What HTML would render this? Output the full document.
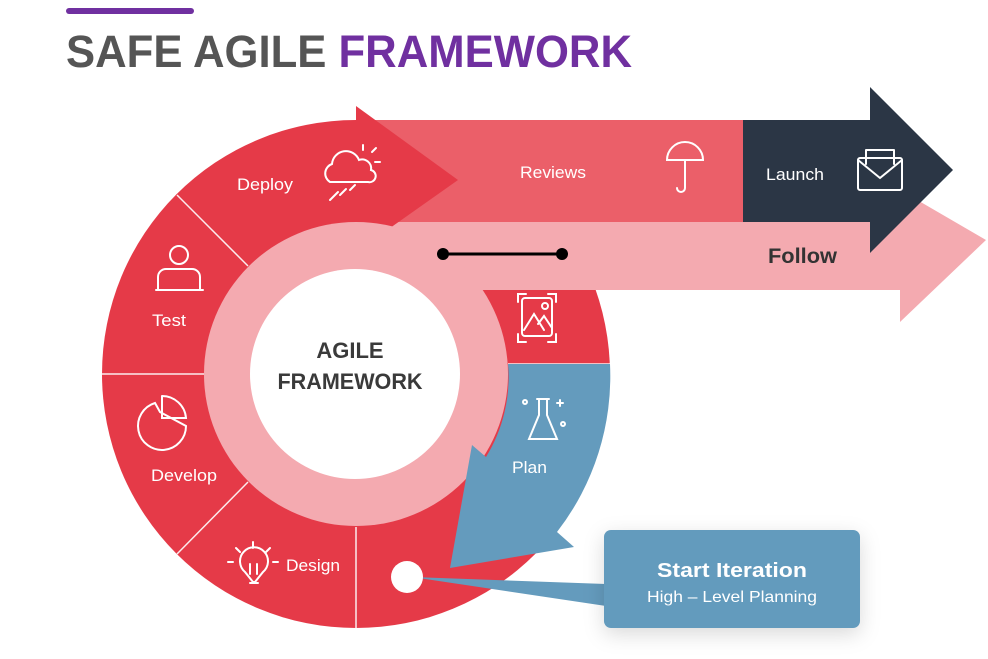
<!DOCTYPE html>
<html><head><style>
body{margin:0;background:#fff;width:988px;height:659px;overflow:hidden}
svg{display:block}
text{font-family:"Liberation Sans",sans-serif}
</style></head><body>
<svg width="988" height="659" viewBox="0 0 988 659">
<defs><filter id="sh" x="-20%" y="-20%" width="140%" height="160%"><feDropShadow dx="0" dy="6" stdDeviation="10" flood-color="#000" flood-opacity="0.15"/></filter></defs>
<rect x="66" y="8" width="128" height="6" rx="3" fill="#7030A0"/>
<text x="66" y="67" font-size="45" font-weight="bold" fill="#555" textLength="566" lengthAdjust="spacingAndGlyphs"><tspan>SAFE AGILE </tspan><tspan fill="#7030A0">FRAMEWORK</tspan></text>

<polygon points="356,222 900,222 900,190 986,240 900,322 900,290 356,290" fill="#F4AAB0"/>
<circle cx="356" cy="374" r="254" fill="#E53A48"/>
<rect x="356" y="120" width="390" height="102" fill="#EB5F69"/>
<rect x="356" y="222" width="260" height="68" fill="#F4AAB0"/>
<polygon points="743,120 870,120 870,87 953,170 870,253 870,222 743,222" fill="#2B3645"/>
<polygon points="356,106 458,180 356,252" fill="#E53A48"/>
<circle cx="356" cy="374" r="152" fill="#F4AAB0"/>
<circle cx="355" cy="374" r="105" fill="#fff"/>
<g stroke="#fff" stroke-width="1.5" opacity="0.9">
<line x1="177" y1="195" x2="248" y2="266"/>
<line x1="102" y1="374" x2="204" y2="374"/>
<line x1="248" y1="482" x2="177" y2="554"/>
<line x1="356" y1="527" x2="356" y2="629"/>
<line x1="508" y1="364" x2="610" y2="364"/>
</g>
<path d="M508,364 L610,364 A254,254 0 0 1 557,532 L574,547 L450,568 L472,445 L486,457 A152,152 0 0 0 508,364 Z" fill="#649BBD"/>
<line x1="443" y1="254" x2="562" y2="254" stroke="#000" stroke-width="3"/>
<circle cx="443" cy="254" r="6"/><circle cx="562" cy="254" r="6"/>
<polygon points="412,577 606,584 606,606" fill="#649BBD"/>
<rect x="604" y="530" width="256" height="98" rx="7" fill="#649BBD" filter="url(#sh)"/>
<circle cx="407" cy="577" r="16" fill="#fff"/>
<text x="732" y="577" font-size="20" font-weight="bold" fill="#fff" text-anchor="middle" textLength="150" lengthAdjust="spacingAndGlyphs">Start Iteration</text>
<text x="732" y="602" font-size="16" fill="#fff" text-anchor="middle" textLength="170" lengthAdjust="spacingAndGlyphs">High – Level Planning</text>
<g fill="#fff" font-size="17">
<text x="237" y="190" textLength="56" lengthAdjust="spacingAndGlyphs">Deploy</text>
<text x="520" y="178" textLength="66" lengthAdjust="spacingAndGlyphs">Reviews</text>
<text x="766" y="180" textLength="58" lengthAdjust="spacingAndGlyphs">Launch</text>
<text x="152" y="326" textLength="34" lengthAdjust="spacingAndGlyphs">Test</text>
<text x="151" y="481" textLength="66" lengthAdjust="spacingAndGlyphs">Develop</text>
<text x="286" y="571" textLength="54" lengthAdjust="spacingAndGlyphs">Design</text>
<text x="512" y="473" textLength="35" lengthAdjust="spacingAndGlyphs">Plan</text>
</g>
<text x="768" y="263" font-size="21" font-weight="bold" fill="#333" textLength="69" lengthAdjust="spacingAndGlyphs">Follow</text>
<text x="350" y="358" font-size="22" font-weight="bold" fill="#3a3a3a" text-anchor="middle">AGILE</text>
<text x="350" y="389" font-size="22" font-weight="bold" fill="#3a3a3a" text-anchor="middle" textLength="145" lengthAdjust="spacingAndGlyphs">FRAMEWORK</text>
<g fill="none" stroke="#fff" stroke-width="2" stroke-linecap="round">
<path d="M330,182 a10,10 0 0 1 2,-18 a14,14 0 0 1 27,-4 a9,9 0 0 1 12,10 a6,6 0 0 1 -3,12 Z"/>
<path d="M363,150 l0,-5 M372,152 l4,-4 M375,162 l5,0"/>
<path d="M330,200 l8,-8 M340,195 l6,-6 M350,190 l5,-5"/>
<circle cx="179" cy="255" r="9"/>
<path d="M158,289 l0,-12 a8,8 0 0 1 8,-8 l26,0 a8,8 0 0 1 8,8 l0,12 M156,290 l47,0"/>
<path d="M155,403 a24,24 0 1 0 31,23 l-26,-14 Z"/>
<path d="M162,396 l0,22 l24,0 a24,24 0 0 0 -24,-22"/>
<path d="M253,582 l-8,-10 a14,14 0 1 1 18,0 l-8,10 Z M250,583 l8,0 M250,574 l0,-10 M257,574 l0,-10 M253,548 l0,-6 M240,552 l-4,-4 M266,552 l4,-4 M233,562 l-5,0 M273,562 l5,0"/>
<path d="M518,302 l0,-8 l8,0 M548,294 l8,0 l0,8 M556,334 l0,8 l-8,0 M526,342 l-8,0 l0,-8"/>
<rect x="522" y="298" width="30" height="38" rx="3"/>
<path d="M524,330 l10,-16 l10,16 M538,324 l6,-8 l8,12"/><circle cx="545" cy="306" r="3"/>
<path d="M537,399 l12,0 M539,399 l0,16 l-10,24 l28,0 l-10,-24 l0,-16"/>
<circle cx="525" cy="402" r="2"/><circle cx="563" cy="424" r="2"/><path d="M560,400 l0,6 M557,403 l6,0"/>
<path d="M667,160 a18,18 0 0 1 36,0 Z M685,160 l0,28 a4,4 0 0 1 -8,0"/>
<rect x="858" y="158" width="44" height="32" rx="2"/><path d="M858,160 l22,18 l22,-18 M866,150 l0,14 M894,150 l0,14 M866,150 l28,0"/>
</g>
</svg>
</body></html>
